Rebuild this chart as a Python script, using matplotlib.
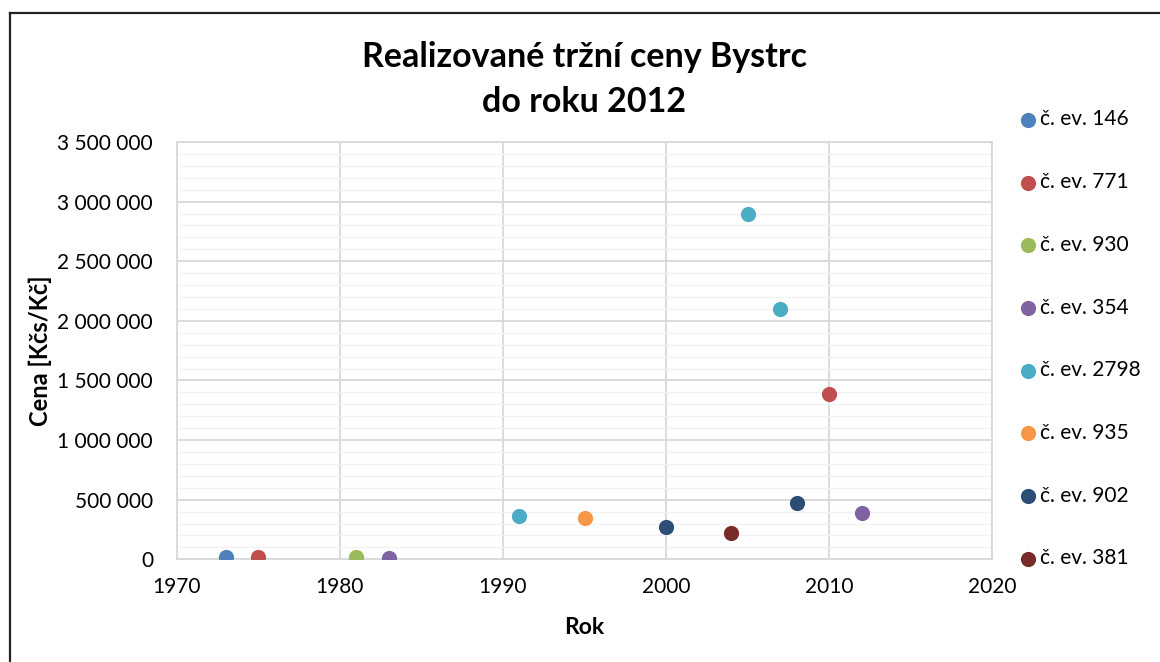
import matplotlib
matplotlib.use("Agg")
import matplotlib.pyplot as plt
from matplotlib.lines import Line2D
from matplotlib.ticker import FuncFormatter, MultipleLocator

plt.rcParams['font.family'] = ['Lato', 'DejaVu Sans']

series_names = ["č. ev. 146", "č. ev. 771", "č. ev. 930", "č. ev. 354",
                "č. ev. 2798", "č. ev. 935", "č. ev. 902", "č. ev. 381"]
series_years = [
    [1973],
    [1975, 2010],
    [1981],
    [1983, 2012],
    [1991, 2005, 2007],
    [1995],
    [2000, 2008],
    [2004],
]
series_prices = [
    [22000],
    [22000, 1387000],
    [22000],
    [14000, 391000],
    [363000, 2900000, 2100000],
    [349000],
    [271000, 475000],
    [224000],
]
colors = ["#4F81BD", "#C0504D", "#9BBB59", "#8064A2",
          "#4BACC6", "#F79646", "#2C4D75", "#772C2A"]

title_lines = ["Realizované tržní ceny Bystrc", "do roku 2012"]
xlabel = "Rok"
ylabel = "Cena [Kčs/Kč]"

W, H = 1160, 662
fig = plt.figure(figsize=(W / 100, H / 100), dpi=100)
left, right, top, bottom = 176.7, 992.4, 142.0, 559.3
ax = fig.add_axes([left / W, 1 - bottom / H, (right - left) / W, (bottom - top) / H])

for name, xs, ys, c in zip(series_names, series_years, series_prices, colors):
    ax.scatter(xs, ys, s=120, color=c, label=name, zorder=3, linewidths=0)

ax.set_xlim(1970, 2020)
ax.set_ylim(0, 3500000)
ax.xaxis.set_major_locator(MultipleLocator(10))
ax.yaxis.set_major_locator(MultipleLocator(500000))
ax.yaxis.set_minor_locator(MultipleLocator(100000))
ax.yaxis.set_major_formatter(FuncFormatter(lambda v, p: f"{int(v):,}".replace(",", " ")))

ax.grid(True, which='major', color='#D9D9D9', linewidth=1.3, zorder=0)
ax.grid(True, which='minor', axis='y', color='#F2F2F2', linewidth=1.0, zorder=0)
ax.set_axisbelow(True)
for sp in ax.spines.values():
    sp.set_color('#D9D9D9')
    sp.set_linewidth(1.3)
ax.tick_params(axis='both', which='both', length=0, labelsize=15, colors='black')
ax.tick_params(axis='x', pad=13)
ax.tick_params(axis='y', pad=17)

ax.set_xlabel(xlabel, fontsize=16.5, fontweight='bold', labelpad=14)
ax.set_ylabel(ylabel, fontsize=17, fontweight='bold', labelpad=4)

cx = 0.5 * (left + right) / W
fig.text(cx, 1 - 57 / H, title_lines[0], ha='center', va='center', fontsize=24.5, fontweight='bold')
fig.text(cx, 1 - 102 / H, title_lines[1], ha='center', va='center', fontsize=24.5, fontweight='bold')

leg = fig.legend(loc='upper left', bbox_to_anchor=(1005 / W, 1 - 99 / H),
                 frameon=False, fontsize=15, handletextpad=0.0, labelspacing=2.05,
                 markerscale=1.0, borderpad=0, handlelength=1.2)

fig.add_artist(Line2D([10 / W, 10 / W], [0, 1 - 13 / H], color='#222222', linewidth=1.6))
fig.add_artist(Line2D([10 / W, 1], [1 - 13 / H, 1 - 13 / H], color='#222222', linewidth=1.6))

fig.savefig("out.png", dpi=100)
